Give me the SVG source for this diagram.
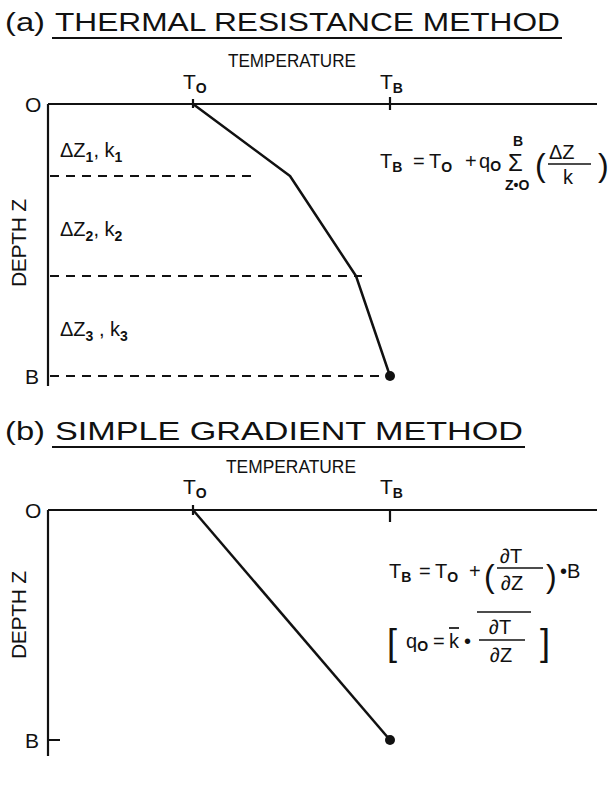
<svg xmlns="http://www.w3.org/2000/svg" width="612" height="791" viewBox="0 0 612 791">
<style>
text{font-family:"Liberation Sans","DejaVu Sans",sans-serif;fill:#111}
.title{font-size:25px}
.lbl{font-size:21px}
.ax{stroke:#111;stroke-width:2.2;fill:none}
.dash{stroke:#111;stroke-width:2;stroke-dasharray:9 7;fill:none}
.prof{stroke:#111;stroke-width:2.5;fill:none;stroke-linejoin:round}
.eq{font-size:20px}
.sub{font-size:14px;font-weight:bold}
.big{font-size:32px}
.sig{font-size:24px}
.bar{stroke:#111;stroke-width:1.7}
</style>
<rect width="612" height="791" fill="#fff"/>
<!-- Panel (a) -->
<g id="title-a">
<text class="title" x="5" y="31" textLength="40" lengthAdjust="spacingAndGlyphs">(a)</text>
<text class="title" x="55" y="31" textLength="505" lengthAdjust="spacingAndGlyphs">THERMAL  RESISTANCE  METHOD</text>
<line x1="52" y1="38" x2="562" y2="38" stroke="#111" stroke-width="2"/>
</g>
<g id="axes-a">
<text class="lbl" style="font-size:19px" x="228" y="67" textLength="128" lengthAdjust="spacingAndGlyphs">TEMPERATURE</text>
<text class="lbl" x="183" y="89">T<tspan class="sub" dy="4">O</tspan></text>
<text class="lbl" x="380" y="89">T<tspan class="sub" dy="4">B</tspan></text>
<text class="lbl" x="25" y="112">O</text>
<text class="lbl" x="25" y="384">B</text>
<text class="lbl" transform="translate(26,243) rotate(-90)" text-anchor="middle" textLength="88" lengthAdjust="spacing">DEPTH Z</text>
<path class="ax" d="M48,104 H597 M48,104 V386 M193,99 V108 M390,97 V110"/>
</g>
<g id="layers-a">
<text class="eq" x="60" y="157">ΔZ<tspan class="sub" dy="5">1</tspan><tspan dy="-5">, k</tspan><tspan class="sub" dy="5">1</tspan></text>
<text class="eq" x="60" y="236">ΔZ<tspan class="sub" dy="5">2</tspan><tspan dy="-5">, k</tspan><tspan class="sub" dy="5">2</tspan></text>
<text class="eq" x="60" y="336">ΔZ<tspan class="sub" dy="5">3</tspan><tspan dy="-5"> , k</tspan><tspan class="sub" dy="5">3</tspan></text>
</g>
<g id="connectors-a">
<path class="dash" d="M50,176 H258 M50,276 H362 M50,376 H390"/>
<polyline class="prof" points="193,104 290,176 356,276 390,376"/>
<circle cx="390" cy="376" r="5" fill="#111"/>
</g>
<g id="equation-a">
<text class="eq" x="380" y="168">T<tspan class="sub" dy="4">B</tspan></text>
<text class="eq" x="413" y="168">=</text>
<text class="eq" x="429" y="168">T<tspan class="sub" dy="4">O</tspan></text>
<text class="eq" x="465" y="168">+</text>
<text class="eq" x="479" y="168">q<tspan class="sub" dy="3">O</tspan></text>
<text class="eq sig" x="508" y="171">Σ</text>
<text class="sub" x="513" y="146">B</text>
<text class="sub" x="505" y="190">Z•O</text>
<text class="eq big" x="535" y="176">(</text>
<text class="eq" x="549" y="159">ΔZ</text>
<line class="bar" x1="548" y1="164" x2="591" y2="164"/>
<text class="eq" x="563" y="184">k</text>
<text class="eq big" x="598" y="176">)</text>
</g>
<!-- Panel (b) -->
<g id="title-b">
<text class="title" x="5" y="440" textLength="40" lengthAdjust="spacingAndGlyphs">(b)</text>
<text class="title" x="55" y="440" textLength="468" lengthAdjust="spacingAndGlyphs">SIMPLE  GRADIENT  METHOD</text>
<line x1="52" y1="447" x2="525" y2="447" stroke="#111" stroke-width="2"/>
</g>
<g id="axes-b">
<text class="lbl" style="font-size:19px" x="226" y="473" textLength="130" lengthAdjust="spacingAndGlyphs">TEMPERATURE</text>
<text class="lbl" x="183" y="494">T<tspan class="sub" dy="4">O</tspan></text>
<text class="lbl" x="380" y="494">T<tspan class="sub" dy="4">B</tspan></text>
<text class="lbl" x="25" y="518">O</text>
<text class="lbl" x="25" y="748">B</text>
<text class="lbl" transform="translate(26,615) rotate(-90)" text-anchor="middle" textLength="88" lengthAdjust="spacing">DEPTH Z</text>
<path class="ax" d="M48,510 H597 M48,510 V756 M193,505 V515 M390,510 V522 M48,740 H60"/>
</g>
<g id="connectors-b">
<line class="prof" x1="193" y1="510" x2="390" y2="740"/>
<circle cx="390" cy="740" r="5" fill="#111"/>
</g>
<g id="equation-b">
<text class="eq" x="389" y="578">T<tspan class="sub" dy="4">B</tspan></text>
<text class="eq" x="419" y="578">=</text>
<text class="eq" x="435" y="578">T<tspan class="sub" dy="4">O</tspan></text>
<text class="eq" x="469" y="578">+</text>
<text class="eq big" x="484" y="587">(</text>
<text class="eq" x="500" y="563">∂T</text>
<line class="bar" x1="497" y1="568" x2="543" y2="568"/>
<text class="eq" x="501" y="590">∂Z</text>
<text class="eq big" x="546" y="587">)</text>
<text class="eq" x="560" y="578">•B</text>
<text class="eq" style="font-size:36px" x="387" y="655">[</text>
<text class="eq" x="406" y="648">q<tspan class="sub" dy="3">O</tspan></text>
<text class="eq" x="433" y="648">=</text>
<text class="eq" x="449" y="648">k</text>
<line class="bar" x1="449" y1="628" x2="459" y2="628"/>
<text class="eq" x="464" y="648">•</text>
<line class="bar" x1="477" y1="612" x2="531" y2="612"/>
<text class="eq" x="489" y="634">∂T</text>
<line class="bar" x1="479" y1="640" x2="525" y2="640"/>
<text class="eq" x="490" y="662">∂Z</text>
<text class="eq" style="font-size:36px" x="540" y="655">]</text>
</g>
</svg>
